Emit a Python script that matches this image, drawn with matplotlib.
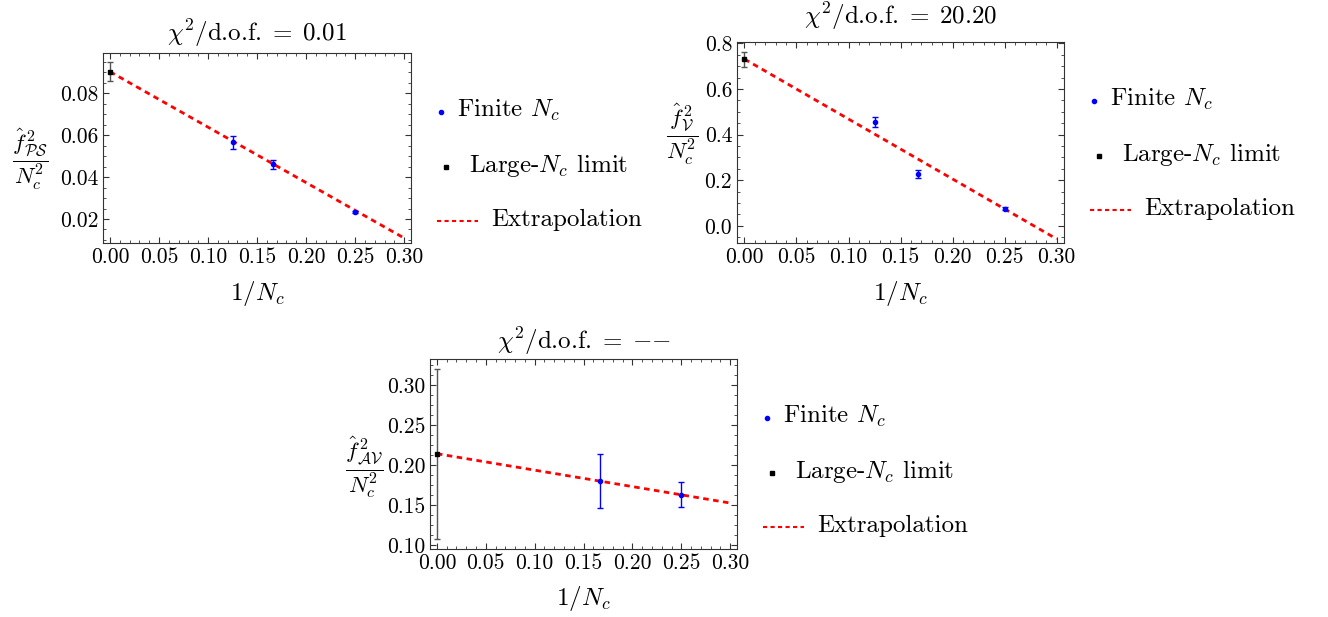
import numpy as np
from matplotlib import pyplot as plt
from matplotlib.ticker import MultipleLocator, AutoMinorLocator
from matplotlib.transforms import ScaledTranslation

plt.rcParams["font.family"] = ["cmr10", "DejaVu Serif"]
plt.rcParams["mathtext.fontset"] = "cm"
plt.rcParams["axes.formatter.use_mathtext"] = True

# finite Nc points (1/Nc, value, error)
ps_x = [0.125, 1 / 6, 0.25]
ps_y = [0.0566, 0.0461, 0.0235]
ps_err = [0.0030, 0.0021, 0.0005]
ps_large = [0.0903]
ps_large_err = [0.0045]
ps_fit_y = [0.0903, 0.0109]

v_x = [0.125, 1 / 6, 0.25]
v_y = [0.456, 0.227, 0.075]
v_err = [0.021, 0.018, 0.008]
v_large = [0.731]
v_large_err = [0.033]
v_fit_y = [0.731, -0.058]

av_x = [1 / 6, 0.25]
av_y = [0.180, 0.163]
av_err = [0.0335, 0.0157]
av_large = [0.2143]
av_large_err = [0.106]
av_fit_y = [0.2143, 0.1528]

fit_x = [0.0, 0.30]

titles = [r"$\chi^2/$d.o.f.$\;=\;0.01$",
          r"$\chi^2/$d.o.f.$\;=\;20.20$",
          r"$\chi^2/$d.o.f.$\;=\;{-}{-}$"]
ylabels = [r"$\dfrac{\hat{f}^{\,2}_{\mathcal{PS}}}{N_c^2}$",
           r"$\dfrac{\hat{f}^{\,2}_{\mathcal{V}}}{N_c^2}$",
           r"$\dfrac{\hat{f}^{\,2}_{\mathcal{AV}}}{N_c^2}$"]
leg_labels = [r"Finite $N_c$", r"Large-$N_c$ limit", "Extrapolation"]

fig = plt.figure(figsize=(13.28, 6.17), dpi=100)

# axes boxes in figure fraction
boxes = [
    [0.0776, 0.606, 0.2319, 0.308],
    [0.555, 0.606, 0.2462, 0.326],
    [0.3238, 0.1102, 0.2312, 0.308],
]
ylims = [(0.0085, 0.0992), (-0.076, 0.806), (0.0955, 0.3324)]
yticks = [0.02, 0.2, 0.05]
yfmt = ["%.2f", "%.1f", "%.2f"]
ylab_xy = [(-0.237, 0.44), (-0.168, 0.54), (-0.215, 0.43)]
title_pad = [8.5, 13, 7]

data = [
    (ps_x, ps_y, ps_err, ps_large, ps_large_err, ps_fit_y),
    (v_x, v_y, v_err, v_large, v_large_err, v_fit_y),
    (av_x, av_y, av_err, av_large, av_large_err, av_fit_y),
]


def px(ax, dx, dy):
    # offset in pixels from the top right corner of the axes
    return ax.transAxes + ScaledTranslation(dx / 100, -dy / 100, fig.dpi_scale_trans)


for i in range(3):
    ax = fig.add_axes(boxes[i])
    x, y, err, large, large_err, fit_y = data[i]

    ax.plot(fit_x, fit_y, color="red", linestyle=(0, (2, 1.6)), lw=2, zorder=2)
    ax.errorbar(x, y, yerr=err, fmt="o", color="blue", ms=3, capsize=2.5,
                elinewidth=1, capthick=1, zorder=3)
    ax.errorbar([0.0], large, yerr=large_err, fmt="s", color="black", ms=3,
                ecolor="#555555", capsize=2.5, elinewidth=1, capthick=1, zorder=3)

    ax.set_xlim(-0.0071, 0.307)
    ax.set_ylim(*ylims[i])
    ax.xaxis.set_major_locator(MultipleLocator(0.05))
    ax.xaxis.set_minor_locator(AutoMinorLocator(5))
    ax.yaxis.set_major_locator(MultipleLocator(yticks[i]))
    ax.yaxis.set_minor_locator(AutoMinorLocator(4))
    ax.xaxis.set_major_formatter(plt.FormatStrFormatter("%.2f"))
    ax.yaxis.set_major_formatter(plt.FormatStrFormatter(yfmt[i]))
    ax.tick_params(which="both", direction="in", top=True, right=True,
                   labelsize=15.5, color="#333333")
    ax.tick_params(which="major", length=4)
    ax.tick_params(which="minor", length=2)
    for s in ax.spines.values():
        s.set_color("#333333")

    ax.set_title(titles[i], fontsize=18, pad=title_pad[i])
    ax.set_xlabel(r"$1/N_c$", fontsize=18, labelpad=8)
    ax.set_ylabel(ylabels[i], fontsize=16.5, rotation=0, va="center", ha="center")
    ax.yaxis.set_label_coords(*ylab_xy[i])

    # legend, Mathematica style (staggered entries right of the frame)
    dash_w = 41 / (boxes[i][2] * 1328)
    ax.plot([1], [1], "o", color="blue", ms=3, transform=px(ax, 30, 59), clip_on=False)
    ax.text(1, 1, leg_labels[0], fontsize=18, va="baseline", transform=px(ax, 46, 64))
    ax.plot([1], [1], "s", color="black", ms=3, transform=px(ax, 35, 114), clip_on=False)
    ax.text(1, 1, leg_labels[1], fontsize=18, va="baseline", transform=px(ax, 58, 119))
    ax.plot([1, 1 + dash_w], [1, 1], color="red", linestyle=(0, (2, 1.6)), lw=1.5,
            transform=px(ax, 26, 168), clip_on=False)
    ax.text(1, 1, leg_labels[2], fontsize=18, va="baseline", transform=px(ax, 80, 173))

fig.savefig("out.png", dpi=100)
